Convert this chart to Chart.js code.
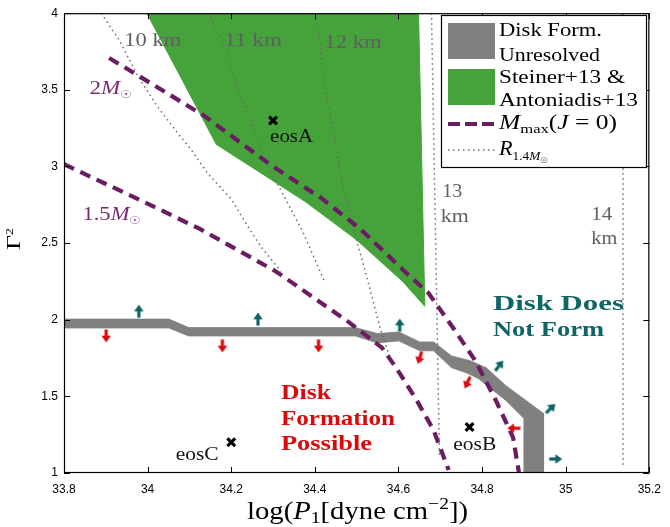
<!DOCTYPE html>
<html><head><meta charset="utf-8">
<script src="https://cdn.jsdelivr.net/npm/chart.js@4.4.1/dist/chart.umd.min.js"></script>
<style>html,body{margin:0;padding:0;background:#fff}</style>
</head><body>
<canvas id="c" width="670" height="527"></canvas>
<script>
// ---------------- DATA ----------------
const xTickValues = [33.8, 34, 34.2, 34.4, 34.6, 34.8, 35, 35.2];
const xTickLabels = ['33.8', '34', '34.2', '34.4', '34.6', '34.8', '35', '35.2'];
const yTickValues = [1, 1.5, 2, 2.5, 3, 3.5, 4];
const yTickLabels = ['1', '1.5', '2', '2.5', '3', '3.5', '4'];

// Steiner+13 & Antoniadis+13 allowed region (closed polygon)
const steinerX = [33.998, 34.124, 34.164, 34.378, 34.499, 34.610, 34.663, 34.648];
const steinerY = [4.0, 3.352, 3.145, 2.769, 2.523, 2.250, 2.088, 4.0];

// Disk formation unresolved band (upper edge, then lower edge back)
const bandX = [33.8, 34.051, 34.098, 34.497, 34.549, 34.601, 34.651, 34.684, 34.727, 34.772, 34.810, 34.857, 34.947, 34.947,
               34.900, 34.900, 34.857, 34.791, 34.762, 34.727, 34.684, 34.651, 34.601, 34.549, 34.497, 34.098, 34.051, 33.8];
const bandY = [2.004, 2.004, 1.949, 1.949, 1.910, 1.920, 1.855, 1.855, 1.764, 1.732, 1.687, 1.570, 1.389, 1.0,
               1.0, 1.356, 1.473, 1.616, 1.654, 1.687, 1.797, 1.797, 1.862, 1.849, 1.894, 1.894, 1.946, 1.946];

// Mmax(J=0) contours
const m20X = [33.908, 34.134, 34.295, 34.418, 34.508, 34.620, 34.672, 34.731, 34.784, 34.833, 34.874, 34.888];
const m20Y = [3.708, 3.333, 3.009, 2.788, 2.594, 2.302, 2.173, 1.946, 1.732, 1.473, 1.233, 1.006];
const m15X = [33.8, 33.991, 34.124, 34.307, 34.478, 34.561, 34.596, 34.644, 34.684, 34.720];
const m15Y = [3.015, 2.769, 2.594, 2.315, 1.991, 1.816, 1.680, 1.473, 1.279, 1.019];

// R_1.4Msun contours
const r10X = [33.889, 33.932, 33.975, 34.020, 34.067, 34.105, 34.145, 34.200, 34.240, 34.271, 34.319];
const r10Y = [4.0, 3.825, 3.598, 3.404, 3.235, 3.106, 2.950, 2.788, 2.607, 2.477, 2.315];
const r11X = [34.145, 34.186, 34.221, 34.264, 34.295, 34.312, 34.371, 34.425];
const r11Y = [4.0, 3.773, 3.469, 3.171, 2.950, 2.879, 2.575, 2.238];
const r12X = [34.402, 34.411, 34.425, 34.442, 34.461, 34.478, 34.501, 34.525, 34.556, 34.584];
const r12Y = [4.0, 3.819, 3.495, 3.274, 2.950, 2.749, 2.509, 2.270, 1.946, 1.719];
const r13X = [34.679, 34.691, 34.698];
const r13Y = [4.0, 2.186, 1.104];
const r14X = [35.137, 35.137];
const r14Y = [4.0, 1.039];

// arrows: "does not form" (teal) and "formation possible" (red); angle = direction, deg clockwise from up
const notFormX = [33.979, 34.264, 34.603, 34.841, 34.964, 34.976];
const notFormY = [2.056, 2.004, 1.965, 1.700, 1.421, 1.091];
const notFormDir = [0, 0, 0, 38, 45, 90];
const formX = [33.901, 34.179, 34.409, 34.651, 34.765, 34.876];
const formY = [1.894, 1.829, 1.829, 1.752, 1.590, 1.292];
const formDir = [180, 180, 180, 198, 205, 270];

// sample EOS
const eosNames = ['eosA', 'eosB', 'eosC'];
const eosX = [34.3, 34.77, 34.2];
const eosY = [3.3, 1.3, 1.2];

// ---------------- STYLE ----------------
const GREEN = '#46a33b', GRAY = '#808080', PURPLE = '#6b1c63', TEAL = '#0f6464', RED = '#d80a0a', DOT = '#6a6a6a';
const SERIF = '"Liberation Serif", "DejaVu Serif", serif';
const pts = (xs, ys) => xs.map((v, i) => ({x: v, y: ys[i]}));

function arrowImg(color) {
  const c = document.createElement('canvas'); c.width = 16; c.height = 16;
  const g = c.getContext('2d'); g.fillStyle = color;
  g.beginPath(); g.moveTo(8, 1.5); g.lineTo(12.8, 8.2); g.lineTo(9.6, 8.2); g.lineTo(9.6, 14.5);
  g.lineTo(6.4, 14.5); g.lineTo(6.4, 8.2); g.lineTo(3.2, 8.2); g.closePath(); g.fill();
  return c;
}

const dotted = (xs, ys) => ({data: pts(xs, ys), showLine: true, borderColor: DOT, borderWidth: 1.5,
  borderDash: [1.5, 3.5], pointRadius: 0, fill: false, tension: 0, order: 8});
const dashed = (xs, ys) => ({data: pts(xs, ys), showLine: true, borderColor: PURPLE, borderWidth: 4.2,
  borderDash: [11, 7], borderCapStyle: 'butt', pointRadius: 0, fill: false, tension: 0, order: 6});

// text helper: parts drawn sequentially, stretched horizontally to width w
function runs(ctx, parts, x, y, w) {
  let total = 0;
  parts.forEach(p => { ctx.font = p.f; p.w = ctx.measureText(p.t).width; total += p.w; });
  const s = w ? w / total : 1;
  ctx.save(); ctx.translate(x, y); ctx.scale(s, 1);
  ctx.textAlign = 'left'; ctx.textBaseline = 'alphabetic';
  let cx = 0;
  parts.forEach(p => { ctx.font = p.f; ctx.fillStyle = p.c; ctx.fillText(p.t, cx, p.dy || 0); cx += p.w; });
  ctx.restore();
}
const R = s => `${s}px ${SERIF}`;
const I = s => `italic ${s}px ${SERIF}`;
const B = s => `bold ${s}px ${SERIF}`;

// annotation texts: data-coordinate anchor (left, baseline)
const KM = '#606060';
const annotations = [
  {x: 33.944, y: 3.786, w: 57, parts: [{t: '10 km', f: R(19), c: KM}]},
  {x: 34.183, y: 3.786, w: 58, parts: [{t: '11 km', f: R(19), c: KM}]},
  {x: 34.423, y: 3.773, w: 57, parts: [{t: '12 km', f: R(19), c: KM}]},
  {x: 34.705, y: 2.801, w: 20, parts: [{t: '13', f: R(19), c: KM}]},
  {x: 34.701, y: 2.639, w: 28, parts: [{t: 'km', f: R(19), c: KM}]},
  {x: 35.061, y: 2.652, w: 21, parts: [{t: '14', f: R(19), c: KM}]},
  {x: 35.061, y: 2.497, w: 26, parts: [{t: 'km', f: R(19), c: KM}]},
  {x: 33.861, y: 3.475, w: 43, parts: [{t: '2', f: R(19), c: '#7a2a72'}, {t: 'M', f: I(19), c: '#7a2a72'}, {t: '\u2609', f: R(11), c: '#a060a0', dy: 4}]},
  {x: 33.844, y: 2.652, w: 59, parts: [{t: '1.5', f: R(19), c: '#7a2a72'}, {t: 'M', f: I(19), c: '#7a2a72'}, {t: '\u2609', f: R(11), c: '#a060a0', dy: 4}]},
  {x: 34.293, y: 3.158, w: 43, parts: [{t: 'eosA', f: R(18), c: '#111'}]},
  {x: 34.731, y: 1.149, w: 43, parts: [{t: 'eosB', f: R(18), c: '#111'}]},
  {x: 34.067, y: 1.084, w: 43, parts: [{t: 'eosC', f: R(18), c: '#111'}]},
  {x: 34.826, y: 2.066, w: 131, parts: [{t: 'Disk Does', f: B(22), c: TEAL}]},
  {x: 34.826, y: 1.894, w: 111, parts: [{t: 'Not Form', f: B(22), c: TEAL}]},
  {x: 34.319, y: 1.486, w: 50, parts: [{t: 'Disk', f: B(21), c: RED}]},
  {x: 34.319, y: 1.311, w: 114, parts: [{t: 'Formation', f: B(21), c: RED}]},
  {x: 34.319, y: 1.149, w: 91, parts: [{t: 'Possible', f: B(21), c: RED}]},
];

const decor = {
  id: 'decor',
  afterDatasetsDraw(chart) {
    const {ctx, chartArea: a, scales: {x, y}} = chart;
    ctx.save();
    annotations.forEach(an => runs(ctx, an.parts, x.getPixelForValue(an.x), y.getPixelForValue(an.y), an.w));

    // frame + inward ticks
    ctx.strokeStyle = '#000'; ctx.lineWidth = 1.2;
    ctx.strokeRect(a.left + 0.5, a.top + 0.5, a.right - a.left - 1, a.bottom - a.top - 1);
    ctx.lineWidth = 1;
    ctx.beginPath();
    xTickValues.forEach(v => {
      const p = Math.round(x.getPixelForValue(v)) + 0.5;
      ctx.moveTo(p, a.bottom); ctx.lineTo(p, a.bottom - 6);
      ctx.moveTo(p, a.top); ctx.lineTo(p, a.top + 6);
    });
    yTickValues.forEach(v => {
      const p = Math.round(y.getPixelForValue(v)) + 0.5;
      ctx.moveTo(a.left, p); ctx.lineTo(a.left + 6, p);
      ctx.moveTo(a.right, p); ctx.lineTo(a.right - 6, p);
    });
    ctx.stroke();

    // axis titles
    runs(ctx, [{t: 'log(', f: R(25), c: '#000'}, {t: 'P', f: I(25), c: '#000'}, {t: '1', f: R(17), c: '#000', dy: 4},
               {t: '[dyne cm', f: R(25), c: '#000'}, {t: '\u22122', f: R(17), c: '#000', dy: -10}, {t: '])', f: R(25), c: '#000'}],
         247, 519, 221);
    ctx.save(); ctx.translate(20, 250); ctx.rotate(-Math.PI / 2);
    runs(ctx, [{t: '\u0393', f: R(19), c: '#000'}, {t: '2', f: R(10), c: '#000', dy: -7}], 0, 0, 22);
    ctx.restore();

    // legend
    const L = 441, T = 15, W = 205, H = 152;
    ctx.fillStyle = '#fff'; ctx.fillRect(L, T, W, H);
    ctx.strokeStyle = '#000'; ctx.lineWidth = 1.2; ctx.strokeRect(L + 0.5, T + 0.5, W, H);
    ctx.fillStyle = GRAY; ctx.fillRect(448, 23, 47, 36);
    ctx.fillStyle = GREEN; ctx.fillRect(448, 69, 47, 36);
    ctx.strokeStyle = PURPLE; ctx.lineWidth = 4; ctx.setLineDash([12, 5]); ctx.lineCap = 'butt';
    ctx.beginPath(); ctx.moveTo(448, 124); ctx.lineTo(495, 124); ctx.stroke();
    ctx.strokeStyle = DOT; ctx.lineWidth = 1.5; ctx.setLineDash([1.5, 3.5]);
    ctx.beginPath(); ctx.moveTo(448, 150); ctx.lineTo(495, 150); ctx.stroke();
    ctx.setLineDash([]);
    runs(ctx, [{t: 'Disk Form.', f: R(19), c: '#000'}], 499, 36, 103);
    runs(ctx, [{t: 'Unresolved', f: R(19), c: '#000'}], 499, 61, 101);
    runs(ctx, [{t: 'Steiner+13 &', f: R(19), c: '#000'}], 499, 83, 126);
    runs(ctx, [{t: 'Antoniadis+13', f: R(19), c: '#000'}], 499, 106, 139);
    runs(ctx, [{t: 'M', f: I(20), c: '#000'}, {t: 'max', f: R(13), c: '#000', dy: 4}, {t: '(', f: R(20), c: '#000'},
               {t: 'J', f: I(20), c: '#000'}, {t: ' = 0)', f: R(20), c: '#000'}], 499, 129, 118);
    runs(ctx, [{t: 'R', f: I(20), c: '#000'}, {t: '1.4', f: R(12), c: '#000', dy: 5}, {t: 'M', f: I(12), c: '#000', dy: 5},
               {t: '\u2609', f: R(8), c: '#000', dy: 8}], 499, 155, 49);
    ctx.restore();
  }
};

new Chart(document.getElementById('c'), {
  type: 'scatter',
  data: {
    datasets: [
      {data: pts(steinerX, steinerY), showLine: true, fill: 'shape', backgroundColor: GREEN, borderColor: GREEN,
       borderWidth: 1, pointRadius: 0, tension: 0, order: 10},
      {data: pts(bandX, bandY), showLine: true, fill: 'shape', backgroundColor: GRAY, borderColor: GRAY,
       borderWidth: 0.8, pointRadius: 0, tension: 0, order: 9},
      dotted(r10X, r10Y), dotted(r11X, r11Y), dotted(r12X, r12Y), dotted(r13X, r13Y), dotted(r14X, r14Y),
      dashed(m20X, m20Y), dashed(m15X, m15Y),
      {data: pts(notFormX, notFormY), pointStyle: arrowImg(TEAL), rotation: notFormDir, pointRadius: 8, order: 4},
      {data: pts(formX, formY), pointStyle: arrowImg(RED), rotation: formDir, pointRadius: 8, order: 4},
      {data: pts(eosX, eosY), pointStyle: 'crossRot', pointRadius: 5.5, borderColor: '#000', borderWidth: 3.2, order: 3},
    ]
  },
  options: {
    responsive: false, animation: false, devicePixelRatio: 1, events: [],
    layout: {padding: {top: 10, right: 15, left: 0, bottom: 0}},
    plugins: {legend: {display: false}, tooltip: {enabled: false}},
    scales: {
      x: {type: 'linear', min: 33.8, max: 35.2,
          afterBuildTicks: s => { s.ticks = xTickValues.map(v => ({value: v})); },
          afterFit: s => { s.height = 54; },
          grid: {display: false, drawTicks: false}, border: {display: false},
          ticks: {autoSkip: false, maxRotation: 0, padding: 9, color: '#000',
                  font: {family: '"Liberation Sans", Arial, sans-serif', size: 12},
                  callback: (v, i) => xTickLabels[i]}},
      y: {type: 'linear', min: 1, max: 4,
          afterBuildTicks: s => { s.ticks = yTickValues.map(v => ({value: v})); },
          afterFit: s => { s.width = 64; },
          grid: {display: false, drawTicks: false}, border: {display: false},
          ticks: {autoSkip: false, padding: 6, color: '#000',
                  font: {family: '"Liberation Sans", Arial, sans-serif', size: 12},
                  callback: (v, i) => yTickLabels[i]}}
    }
  },
  plugins: [decor]
});
</script>
</body></html>
